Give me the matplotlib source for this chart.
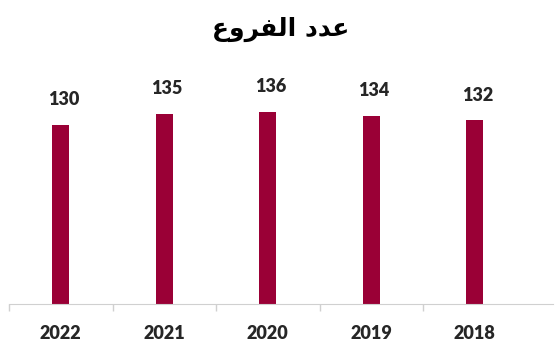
import numpy as np
import matplotlib
matplotlib.use("Agg")
import matplotlib.pyplot as plt

# data, left to right as in the picture
years = ["2022", "2021", "2020", "2019", "2018"]
branches = [130, 135, 136, 134, 132]

# "عدد الفروع" in presentation forms, visual order (matplotlib does no Arabic shaping)
title = "\uFEC9\uFEED\uFEAE\uFED4\uFEDF\uFE8D \uFEA9\uFEAA\uFECB"

bar_color = "#9A0036"
text_color = "#262626"
label_font = ["Lato", "DejaVu Sans"]

fig = plt.figure(figsize=(5.55, 3.47), dpi=100)
ax = fig.add_axes([9 / 555, 43 / 347, 544 / 555, 235 / 347])

x = np.arange(len(years))
ax.bar(x, branches, width=0.165, color=bar_color)
for xi, v in zip(x, branches):
    ax.annotate(str(v), (xi, v), xytext=(2, 12), textcoords="offset points",
                ha="center", va="bottom", fontsize=13, fontweight="heavy",
                color=text_color, family=label_font)

ax.set_ylim(50, 155)
ax.set_xlim(-0.5, len(years) - 0.5 + 0.256)
ax.set_yticks([])
ax.set_xticks(x)
ax.set_xticklabels(years, fontsize=13, fontweight="heavy", color=text_color,
                   family=label_font)
ax.tick_params(axis="x", which="major", length=0, pad=15)
ax.set_xticks(np.arange(len(years)) - 0.5, minor=True)
ax.tick_params(axis="x", which="minor", length=5, color="#d0d0d0", width=1)

for side in ["top", "right", "left"]:
    ax.spines[side].set_visible(False)
ax.spines["bottom"].set_color("#d0d0d0")

fig.text(0.505, 1 - 29 / 347, title, ha="center", va="center", fontsize=18,
         fontweight="bold", color="black", family=["DejaVu Sans"])

fig.savefig("out.png", dpi=100)
